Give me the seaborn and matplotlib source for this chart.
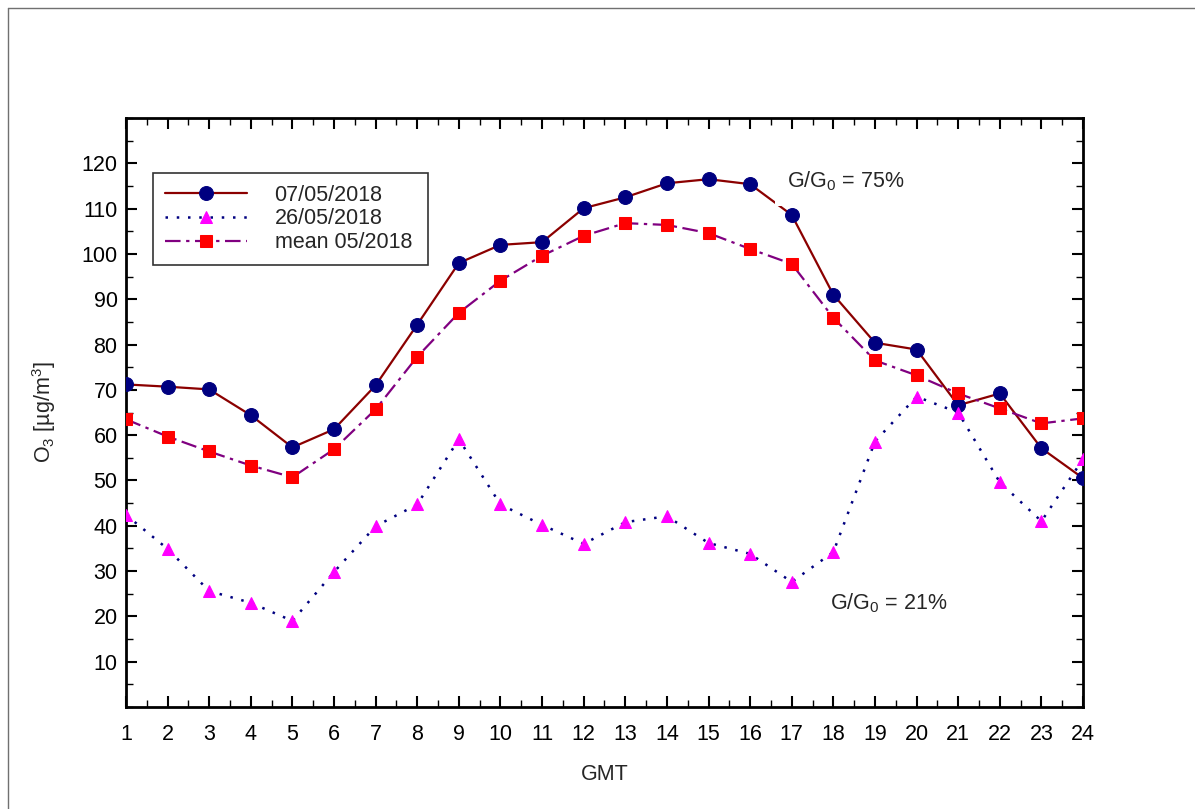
import matplotlib
matplotlib.use("Agg")
import matplotlib.pyplot as plt
import seaborn as sns
import numpy as np
from matplotlib.lines import Line2D
from matplotlib.ticker import MultipleLocator

sns.set_theme(style="white")
plt.rcParams['font.family'] = ['Liberation Sans', 'DejaVu Sans']
plt.rcParams['mathtext.fontset'] = 'custom'
plt.rcParams['mathtext.rm'] = 'Liberation Sans'
plt.rcParams['mathtext.it'] = 'Liberation Sans'

hours = list(range(1, 25))
day_0705 = [71.2, 70.7, 70.1, 64.4, 57.3, 61.3, 71.0, 84.4, 98.0, 102.0, 102.6, 110.1,
            112.5, 115.6, 116.5, 115.4, 108.6, 91.0, 80.4, 78.9, 66.6, 69.2, 57.1, 50.5]
day_2605 = [42.4, 34.9, 25.6, 23.0, 19.0, 29.8, 39.9, 44.7, 59.1, 44.7, 40.2, 36.0,
            40.8, 42.1, 36.2, 33.8, 27.6, 34.2, 58.6, 68.5, 65.0, 49.6, 41.0, 54.7]
mean_05 = [63.5, 59.7, 56.4, 53.3, 50.7, 56.9, 65.7, 77.3, 87.0, 94.1, 99.6, 104.0,
           106.8, 106.4, 104.6, 101.1, 97.8, 85.9, 76.5, 73.2, 69.2, 65.9, 62.6, 63.7]
labels = ["07/05/2018", "26/05/2018", "mean 05/2018"]

FS = 15.5

fig = plt.figure(figsize=(11.95, 8.09), dpi=100)
ax = fig.add_axes([0.1054, 0.1261, 0.9063 - 0.1054, 0.8541 - 0.1261])

sns.lineplot(x=hours, y=day_0705, ax=ax, color="#8B0000", lw=1.6, marker="o",
             markersize=10, markerfacecolor="#000080", markeredgecolor="#000080",
             label=labels[0], zorder=3)
sns.lineplot(x=hours, y=day_2605, ax=ax, color="#000080", lw=1.8, linestyle=(0, (1, 3.5)),
             marker="^", markersize=9, markerfacecolor="#FF00FF", markeredgecolor="#FF00FF",
             label=labels[1], zorder=3)
sns.lineplot(x=hours, y=mean_05, ax=ax, color="#800080", lw=1.6, linestyle=(0, (7, 2.5, 1.5, 2.5)),
             marker="s", markersize=9, markerfacecolor="#FF0000", markeredgecolor="#FF0000",
             label=labels[2], zorder=3)

ax.set_xlim(1, 24)
ax.set_ylim(0, 130)
ax.set_xticks(hours)
ax.xaxis.set_minor_locator(MultipleLocator(0.5))
ax.set_yticks(range(10, 121, 10))
ax.yaxis.set_minor_locator(MultipleLocator(5))
ax.tick_params(which="both", direction="in", top=True, right=True, bottom=True, left=True,
               colors="black", labelsize=FS, width=1.5)
ax.tick_params(which="major", length=8)
ax.tick_params(which="minor", length=5, width=1.0)
ax.tick_params(axis="x", which="major", pad=12)
ax.tick_params(axis="y", which="major", pad=6)
for s in ax.spines.values():
    s.set_color("black")
    s.set_linewidth(2)

ax.set_xlabel("GMT", fontsize=FS, labelpad=14)
ax.set_ylabel("O$_3$ [\u00b5g/m$^3$]", fontsize=FS, labelpad=17)

leg = ax.legend(loc="upper left", bbox_to_anchor=(0.0282, 0.8066, 0.2874, 0.1), mode="expand",
                fontsize=FS, handlelength=3.8, handletextpad=1.3, borderpad=0.55,
                labelspacing=0.12, frameon=True, fancybox=False, edgecolor="black",
                borderaxespad=0)
leg.get_frame().set_linewidth(1.2)

ax.text(16.89, 116.0, "G/G$_0$ = 75%", fontsize=FS, va="center", ha="left", zorder=4,
        bbox=dict(facecolor="white", edgecolor="none", pad=9))
ax.text(17.92, 23.0, "G/G$_0$ = 21%", fontsize=FS, va="center", ha="left", zorder=4)

fig.add_artist(Line2D([8 / 1195, 1.0], [1 - 8 / 809, 1 - 8 / 809], color="#707070", lw=1,
                      transform=fig.transFigure))
fig.add_artist(Line2D([8 / 1195, 8 / 1195], [0, 1 - 8 / 809], color="#707070", lw=1,
                      transform=fig.transFigure))

fig.savefig("out.png", dpi=100, facecolor="white")
